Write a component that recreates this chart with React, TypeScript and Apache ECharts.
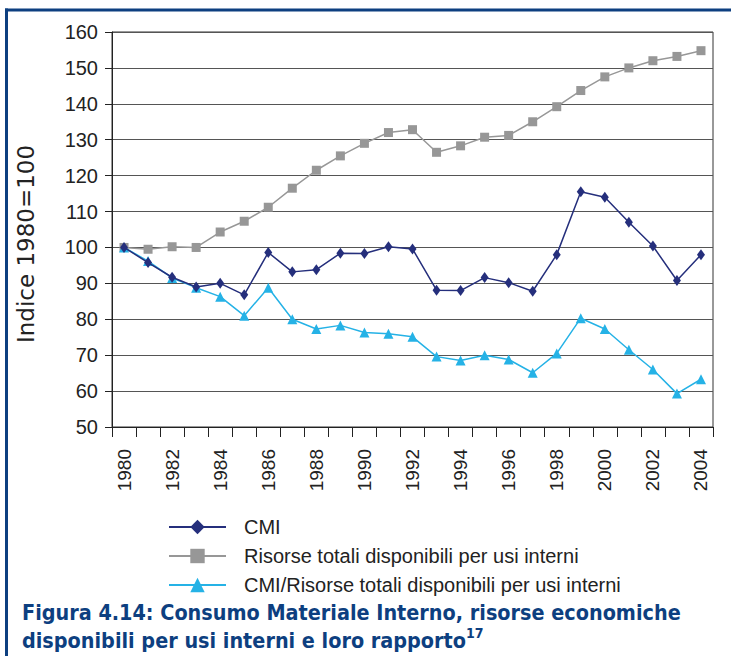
import React, { useEffect, useRef } from "react";
import * as echarts from "echarts";

const years = [
  "1980", "1981", "1982", "1983", "1984", "1985", "1986", "1987", "1988", "1989",
  "1990", "1991", "1992", "1993", "1994", "1995", "1996", "1997", "1998", "1999",
  "2000", "2001", "2002", "2003", "2004",
];

const cmi = [
  100, 95.8, 91.7, 89, 90, 86.8, 98.6, 93.2, 93.8, 98.4,
  98.3, 100.2, 99.6, 88.1, 88, 91.6, 90.2, 87.8, 98, 115.5,
  114, 107, 100.4, 90.8, 98,
];

const risorse = [
  100, 99.5, 100.2, 100, 104.3, 107.3, 111.2, 116.5, 121.5, 125.5,
  129, 132, 132.8, 126.5, 128.3, 130.7, 131.2, 135, 139.2, 143.7,
  147.5, 150, 152, 153.2, 154.8,
];

const rapporto = [
  100, 96.2, 91.5, 88.8, 86.3, 81, 88.8, 80, 77.3, 78.3,
  76.3, 76, 75.1, 69.6, 68.5, 70, 68.8, 65.1, 70.5, 80.3,
  77.3, 71.5, 66, 59.3, 63.3,
];

const seriesNames = [
  "CMI",
  "Risorse totali disponibili per usi interni",
  "CMI/Risorse totali disponibili per usi interni",
];

const yAxisTitle = "Indice 1980=100";
const captionLine1 = "Figura 4.14: Consumo Materiale Interno, risorse economiche";
const captionLine2 = "disponibili per usi interni e loro rapporto";
const captionNote = "17";

const NAVY = "#252f7c";
const GREY = "#979797";
const CYAN = "#25b2e6";
const FRAME = "#0d3f80";

export default function App() {
  const ref = useRef<HTMLDivElement>(null);

  useEffect(() => {
    if (!ref.current) return;
    const chart = echarts.init(ref.current, undefined, { renderer: "svg" });
    const sans = "'Liberation Sans', Arial, sans-serif";
    const cond = "'DejaVu Sans Condensed', 'DejaVu Sans', sans-serif";
    chart.setOption({
      animation: false,
      backgroundColor: "#ffffff",
      grid: {
        left: 112,
        right: 18,
        top: 32,
        bottom: 229,
        show: true,
        borderColor: "#333333",
        borderWidth: 1,
        backgroundColor: "transparent",
      },
      xAxis: {
        type: "category",
        data: years,
        boundaryGap: true,
        axisLine: { lineStyle: { color: "#222", width: 1 } },
        axisTick: { show: true, interval: 0, length: 10, lineStyle: { color: "#222" } },
        axisLabel: {
          interval: 1,
          rotate: 90,
          margin: 22,
          fontSize: 19,
          fontFamily: sans,
          color: "#222",
        },
        splitLine: { show: false },
      },
      yAxis: {
        type: "value",
        min: 50,
        max: 160,
        interval: 10,
        axisLine: { show: true, lineStyle: { color: "#222", width: 1 } },
        axisTick: { show: true, length: 7, lineStyle: { color: "#222" } },
        axisLabel: {
          margin: 14,
          fontSize: 20,
          fontFamily: sans,
          color: "#222",
        },
        splitLine: { show: true, lineStyle: { color: "#555", width: 1 } },
      },
      legend: {
        orient: "vertical",
        left: 168,
        top: 517,
        padding: 0,
        itemWidth: 57,
        itemHeight: 18,
        itemGap: 9,
        data: seriesNames,
        textStyle: {
          fontSize: 20,
          lineHeight: 20,
          fontFamily: sans,
          color: "#222",
          padding: [0, 0, 0, 13],
        },
      },
      graphic: [
        {
          type: "line",
          shape: { x1: 5, y1: 10, x2: 731, y2: 10 },
          style: { stroke: FRAME, lineWidth: 3 },
          silent: true,
        },
        {
          type: "line",
          shape: { x1: 6.5, y1: 8.5, x2: 6.5, y2: 656 },
          style: { stroke: FRAME, lineWidth: 3 },
          silent: true,
        },
        {
          type: "text",
          x: 26,
          y: 244,
          rotation: Math.PI / 2,
          style: {
            text: yAxisTitle,
            fontSize: 23,
            fontFamily: "'DejaVu Sans', sans-serif",
            fill: "#222",
            align: "center",
            verticalAlign: "middle",
          },
          silent: true,
        },
        {
          type: "text",
          x: 22,
          y: 598,
          style: {
            text: captionLine1 + "\n" + captionLine2 + "{sup|" + captionNote + "}",
            fontSize: 21.4,
            lineHeight: 28,
            fontWeight: "bold",
            fontFamily: cond,
            fill: FRAME,
            align: "left",
            verticalAlign: "top",
            rich: {
              sup: {
                fontSize: 14,
                fontWeight: "bold",
                fontFamily: cond,
                fill: FRAME,
                verticalAlign: "top",
                lineHeight: 28,
                padding: [0, 0, 12, 0],
              },
            },
          },
          silent: true,
        },
      ],
      series: [
        {
          name: seriesNames[0],
          type: "line",
          data: cmi,
          symbol: "diamond",
          symbolSize: [8, 11],
          z: 4,
          lineStyle: { color: NAVY, width: 1.5 },
          itemStyle: { color: NAVY },
        },
        {
          name: seriesNames[1],
          type: "line",
          data: risorse,
          symbol: "rect",
          symbolSize: 9,
          z: 2,
          lineStyle: { color: GREY, width: 1.5 },
          itemStyle: { color: GREY },
        },
        {
          name: seriesNames[2],
          type: "line",
          data: rapporto,
          symbol: "triangle",
          symbolSize: [10, 10],
          z: 3,
          lineStyle: { color: CYAN, width: 1.5 },
          itemStyle: { color: CYAN },
        },
      ],
    });
    return () => chart.dispose();
  }, []);

  return (
    <div
      ref={ref}
      style={{ position: "absolute", left: 0, top: 0, width: 731, height: 656, background: "#fff" }}
    />
  );
}
